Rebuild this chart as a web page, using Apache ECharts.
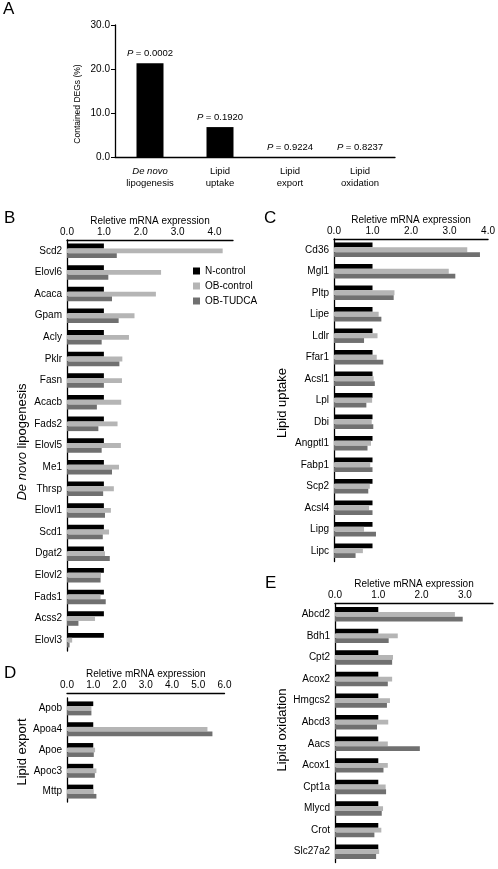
<!DOCTYPE html>
<html>
<head>
<meta charset="utf-8">
<script src="https://cdn.jsdelivr.net/npm/echarts@6/dist/echarts.min.js"></script>
<style>
html,body{margin:0;padding:0;background:#fff;}
#c{width:498px;height:869px;}
</style>
</head>
<body>
<div id="c"></div>
<script>
// ---- Panel A ----
const aCategories = ['De novo\nlipogenesis', 'Lipid\nuptake', 'Lipid\nexport', 'Lipid\noxidation'];
const aValues = [21.3, 6.8, 0, 0];
const aPValues = ['0.0002', '0.1920', '0.9224', '0.8237'];
const aTicks = [0, 10, 20, 30];

// ---- Series names ----
const seriesNames = ['N-control', 'OB-control', 'OB-TUDCA'];

// ---- Panel B: De novo lipogenesis ----
const bGenes = ['Scd2','Elovl6','Acaca','Gpam','Acly','Pklr','Fasn','Acacb','Fads2','Elovl5','Me1','Thrsp','Elovl1','Scd1','Dgat2','Elovl2','Fads1','Acss2','Elovl3'];
const bNControl = [1.0,1.0,1.0,1.0,1.0,1.0,1.0,1.0,1.0,1.0,1.0,1.0,1.0,1.0,1.0,1.0,1.0,1.0,1.0];
const bOBControl = [4.22,2.55,2.41,1.83,1.68,1.50,1.49,1.47,1.37,1.46,1.41,1.27,1.19,1.14,1.03,0.92,0.91,0.76,0.14];
const bOBTUDCA = [1.35,1.12,1.22,1.40,0.94,1.42,1.00,0.81,0.85,0.94,1.22,0.98,1.03,0.97,1.16,0.91,1.05,0.31,0.07];

// ---- Panel C: Lipid uptake ----
const cGenes = ['Cd36','Mgl1','Pltp','Lipe','Ldlr','Ffar1','Acsl1','Lpl','Dbi','Angptl1','Fabp1','Scp2','Acsl4','Lipg','Lipc'];
const cNControl = [1.0,1.0,1.0,1.0,1.0,1.0,1.0,1.0,1.0,1.0,1.0,1.0,1.0,1.0,1.0];
const cOBControl = [3.46,2.98,1.57,1.16,1.13,1.11,1.03,0.99,0.98,0.96,0.94,0.93,0.91,0.78,0.75];
const cOBTUDCA = [3.79,3.15,1.55,1.23,0.78,1.28,1.06,0.84,1.02,0.87,1.00,0.89,1.00,1.09,0.56];

// ---- Panel D: Lipid export ----
const dGenes = ['Apob','Apoa4','Apoe','Apoc3','Mttp'];
const dNControl = [1.0,1.0,1.0,1.0,1.0];
const dOBControl = [0.93,5.35,1.07,1.12,1.02];
const dOBTUDCA = [0.93,5.54,1.02,1.06,1.12];

// ---- Panel E: Lipid oxidation ----
const eGenes = ['Abcd2','Bdh1','Cpt2','Acox2','Hmgcs2','Abcd3','Aacs','Acox1','Cpt1a','Mlycd','Crot','Slc27a2'];
const eNControl = [1.0,1.0,1.0,1.0,1.0,1.0,1.0,1.0,1.0,1.0,1.0,1.0];
const eOBControl = [2.77,1.45,1.34,1.32,1.27,1.23,1.22,1.22,1.17,1.11,1.07,1.02];
const eOBTUDCA = [2.95,1.24,1.32,1.22,1.20,0.97,1.96,1.12,1.18,1.08,0.91,0.95];

const FONT = 'Liberation Sans, Arial, Helvetica, sans-serif';
const COLORS = ['#000000', '#b5b5b5', '#707070'];
const TXT = '#000000';

const grids = [
  {left: 115, top: 25, width: 280, height: 132},     // A
  {left: 67, top: 240, width: 166, height: 411},     // B
  {left: 334, top: 239, width: 155, height: 322.5},  // C
  {left: 67, top: 698, width: 157.5, height: 104},   // D
  {left: 335, top: 603.5, width: 158, height: 259}   // E
];

function valueTopAxis(gi, max, offset) {
  return {
    type: 'value', gridIndex: gi, position: 'top', min: 0, max: max, interval: 1,
    offset: offset || 0,
    name: 'Reletive mRNA expression', nameLocation: 'middle', nameGap: 13,
    nameTextStyle: {fontFamily: FONT, fontSize: 10, color: TXT},
    axisLine: {show: true, lineStyle: {color: '#000', width: 1.3}},
    axisTick: {show: false},
    splitLine: {show: false},
    axisLabel: {fontFamily: FONT, fontSize: 10, color: TXT, margin: 3,
      formatter: v => Number.isInteger(v) ? v.toFixed(1) : ''}
  };
}
function catAxis(gi, data) {
  return {
    type: 'category', gridIndex: gi, data: data, inverse: true,
    axisLine: {show: true, lineStyle: {color: '#000', width: 1.3}},
    axisTick: {show: false},
    axisLabel: {fontFamily: FONT, fontSize: 10, color: TXT, margin: 5}
  };
}
function barSeries(gi, n, o, t) {
  return [n, o, t].map((d, i) => ({
    type: 'bar', name: seriesNames[i], xAxisIndex: gi, yAxisIndex: gi,
    data: d, barGap: '0%', barCategoryGap: '33%',
    itemStyle: {color: COLORS[i]}, silent: true
  }));
}

const option = {
  animation: false,
  backgroundColor: '#fff',
  textStyle: {fontFamily: FONT},
  grid: grids,
  legend: {
    show: true, orient: 'vertical', left: 193, top: 266, padding: 0,
    itemWidth: 7, itemHeight: 7, itemGap: 5, icon: 'rect',
    data: seriesNames,
    textStyle: {fontFamily: FONT, fontSize: 10, color: TXT, padding: [0, 0, 0, 0]},
    selectedMode: false
  },
  xAxis: [
    {
      type: 'category', gridIndex: 0, data: aCategories,
      axisLine: {show: true, lineStyle: {color: '#000', width: 1.3}},
      axisTick: {show: false},
      axisLabel: {
        fontFamily: FONT, fontSize: 9.5, color: TXT, margin: 9, lineHeight: 11.5,
        formatter: v => v.startsWith('De novo') ? '{i|De novo}\nlipogenesis' : v,
        rich: {i: {fontStyle: 'italic', fontSize: 9.5, fontFamily: FONT, color: TXT, lineHeight: 11.5}}
      }
    },
    valueTopAxis(1, 4.5),
    valueTopAxis(2, 4),
    valueTopAxis(3, 6, 5),
    valueTopAxis(4, 3.65)
  ],
  yAxis: [
    {
      type: 'value', gridIndex: 0, min: aTicks[0], max: aTicks[aTicks.length - 1], interval: 10,
      axisLine: {show: true, lineStyle: {color: '#000', width: 1.3}},
      axisTick: {show: true, length: 4, lineStyle: {color: '#000'}},
      splitLine: {show: false},
      axisLabel: {fontFamily: FONT, fontSize: 10, color: TXT, margin: 5, formatter: v => v.toFixed(1)}
    },
    catAxis(1, bGenes),
    catAxis(2, cGenes),
    catAxis(3, dGenes),
    catAxis(4, eGenes)
  ],
  series: [
    {
      type: 'bar', name: 'DEGs', xAxisIndex: 0, yAxisIndex: 0, data: aValues, barWidth: 27,
      itemStyle: {color: '#000'}, silent: true,
      label: {
        show: true, position: 'top', distance: 5,
        formatter: p => '{i|P} = ' + aPValues[p.dataIndex],
        fontFamily: FONT, fontSize: 9.5, color: TXT,
        rich: {i: {fontStyle: 'italic', fontFamily: FONT, fontSize: 9.5, color: TXT}}
      }
    },
    ...barSeries(1, bNControl, bOBControl, bOBTUDCA),
    ...barSeries(2, cNControl, cOBControl, cOBTUDCA),
    ...barSeries(3, dNControl, dOBControl, dOBTUDCA),
    ...barSeries(4, eNControl, eOBControl, eOBTUDCA)
  ],
  graphic: [
    {type: 'text', left: 3, top: 1, style: {text: 'A', fontFamily: FONT, fontSize: 17, fill: '#000'}},
    {type: 'text', left: 4, top: 210, style: {text: 'B', fontFamily: FONT, fontSize: 17, fill: '#000'}},
    {type: 'text', left: 264, top: 210, style: {text: 'C', fontFamily: FONT, fontSize: 17, fill: '#000'}},
    {type: 'text', left: 4, top: 665, style: {text: 'D', fontFamily: FONT, fontSize: 17, fill: '#000'}},
    {type: 'text', left: 265, top: 575, style: {text: 'E', fontFamily: FONT, fontSize: 17, fill: '#000'}},
    {type: 'text', x: 78, y: 104, rotation: Math.PI / 2,
      style: {text: 'Contained DEGs (%)', fontFamily: FONT, fontSize: 8.5, fill: TXT, align: 'center', verticalAlign: 'middle'}},
    {type: 'text', x: 22, y: 442, rotation: Math.PI / 2,
      style: {text: '{i|De novo} lipogenesis', fontFamily: FONT, fontSize: 13, fill: TXT, align: 'center', verticalAlign: 'middle',
        rich: {i: {fontStyle: 'italic', fontFamily: FONT, fontSize: 13, fill: TXT}}}},
    {type: 'text', x: 282, y: 403, rotation: Math.PI / 2,
      style: {text: 'Lipid uptake', fontFamily: FONT, fontSize: 13, fill: TXT, align: 'center', verticalAlign: 'middle'}},
    {type: 'text', x: 22, y: 752, rotation: Math.PI / 2,
      style: {text: 'Lipid export', fontFamily: FONT, fontSize: 13, fill: TXT, align: 'center', verticalAlign: 'middle'}},
    {type: 'text', x: 282, y: 730, rotation: Math.PI / 2,
      style: {text: 'Lipid oxidation', fontFamily: FONT, fontSize: 13, fill: TXT, align: 'center', verticalAlign: 'middle'}}
  ]
};

const chart = echarts.init(document.getElementById('c'), null, {renderer: 'canvas'});
chart.setOption(option);
</script>
</body>
</html>
